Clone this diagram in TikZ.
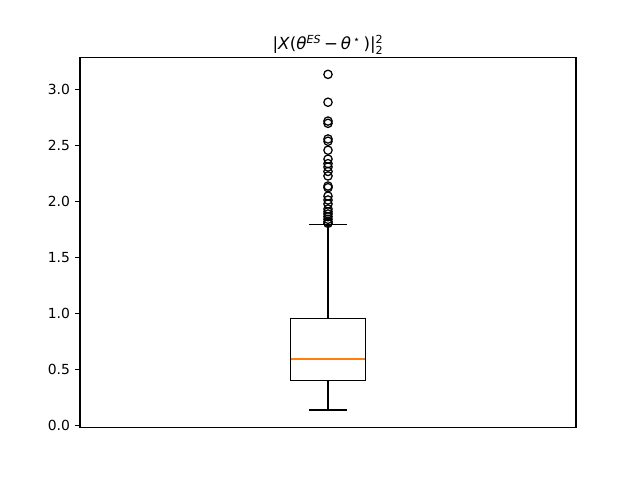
\documentclass[tikz,border=0pt]{standalone}
\usepackage{amsmath}
\usepackage{fontspec}
\setmainfont{DejaVu Sans}
\definecolor{mplorange}{RGB}{255,127,14}
\begin{document}
\begin{tikzpicture}[x=0.72pt,y=-0.72pt,
  spine/.style={line width=0.8pt,draw=black},
  tickmark/.style={line width=0.8pt,draw=black},
  boxline/.style={line width=0.8pt,draw=black},
  medline/.style={line width=1.2pt,draw=mplorange},
  flier/.style={draw=black,line width=0.9pt,circle,inner sep=0pt,minimum size=6pt},
  ticklab/.style={anchor=east,font=\fontsize{10}{12}\selectfont,inner sep=0pt},
  titlestyle/.style={anchor=base,font=\fontsize{12}{14}\selectfont,inner sep=0pt}]
\useasboundingbox (0,0) rectangle (640,480);
% axes frame
\coordinate (axNW) at (80,57.6);
\coordinate (axSE) at (576,427.2);
\draw[spine] (axNW) rectangle (axSE);
% y ticks
\foreach \v/\lab [count=\i] in {0/0.0,0.5/0.5,1/1.0,1.5/1.5,2/2.0,2.5/2.5,3/3.0}{
  \coordinate (tk\i) at (80,{425.7-112*\v});
  \coordinate (tke\i) at ({80-3.5/0.72},{425.7-112*\v});
  \draw[tickmark] (tk\i) -- (tke\i);
  \node[ticklab] (tl\i) at ({80-7/0.72},{425.7-112*\v}) {\lab};
}
% box
\coordinate (boxNW) at (290.8,{425.7-112*0.959});
\coordinate (boxSE) at (365.2,{425.7-112*0.402});
\draw[boxline] (boxNW) rectangle (boxSE);
\coordinate (medW) at (291.4,{425.7-112*0.593});
\coordinate (medE) at (364.6,{425.7-112*0.593});
\draw[medline,color=mplorange] (medW) -- (medE);
% whiskers
\coordinate (wtop0) at (328,{425.7-112*0.959});
\coordinate (wtop1) at (328,{425.7-112*1.80});
\coordinate (wbot0) at (328,{425.7-112*0.402});
\coordinate (wbot1) at (328,{425.7-112*0.14});
\draw[boxline] (wtop0) -- (wtop1);
\draw[boxline] (wbot0) -- (wbot1);
\coordinate (ctW) at (309.4,{425.7-112*1.80});
\coordinate (ctE) at (346.6,{425.7-112*1.80});
\coordinate (cbW) at (309.4,{425.7-112*0.14});
\coordinate (cbE) at (346.6,{425.7-112*0.14});
\draw[boxline] (ctW) -- (ctE);
\draw[boxline] (cbW) -- (cbE);
% fliers
\foreach \v [count=\i] in {3.137,2.888,2.72,2.70,2.56,2.54,2.46,2.38,2.34,2.31,2.27,2.23,2.14,2.125,2.05,2.015,1.98,1.935,1.91,1.89,1.866,1.843,1.82,1.807}{
  \node[flier] (f\i) at (328,{425.7-112*\v}) {};
}
% title
\node[titlestyle] (title) at (328,49.3)
  {|\textit{X}(\textit{θ}$^{\textit{ES}}$\,−\,\textit{θ}$^{\,⋆}$\,)|$^{\text{2}}_{\text{2}}$};
\end{tikzpicture}
\end{document}
